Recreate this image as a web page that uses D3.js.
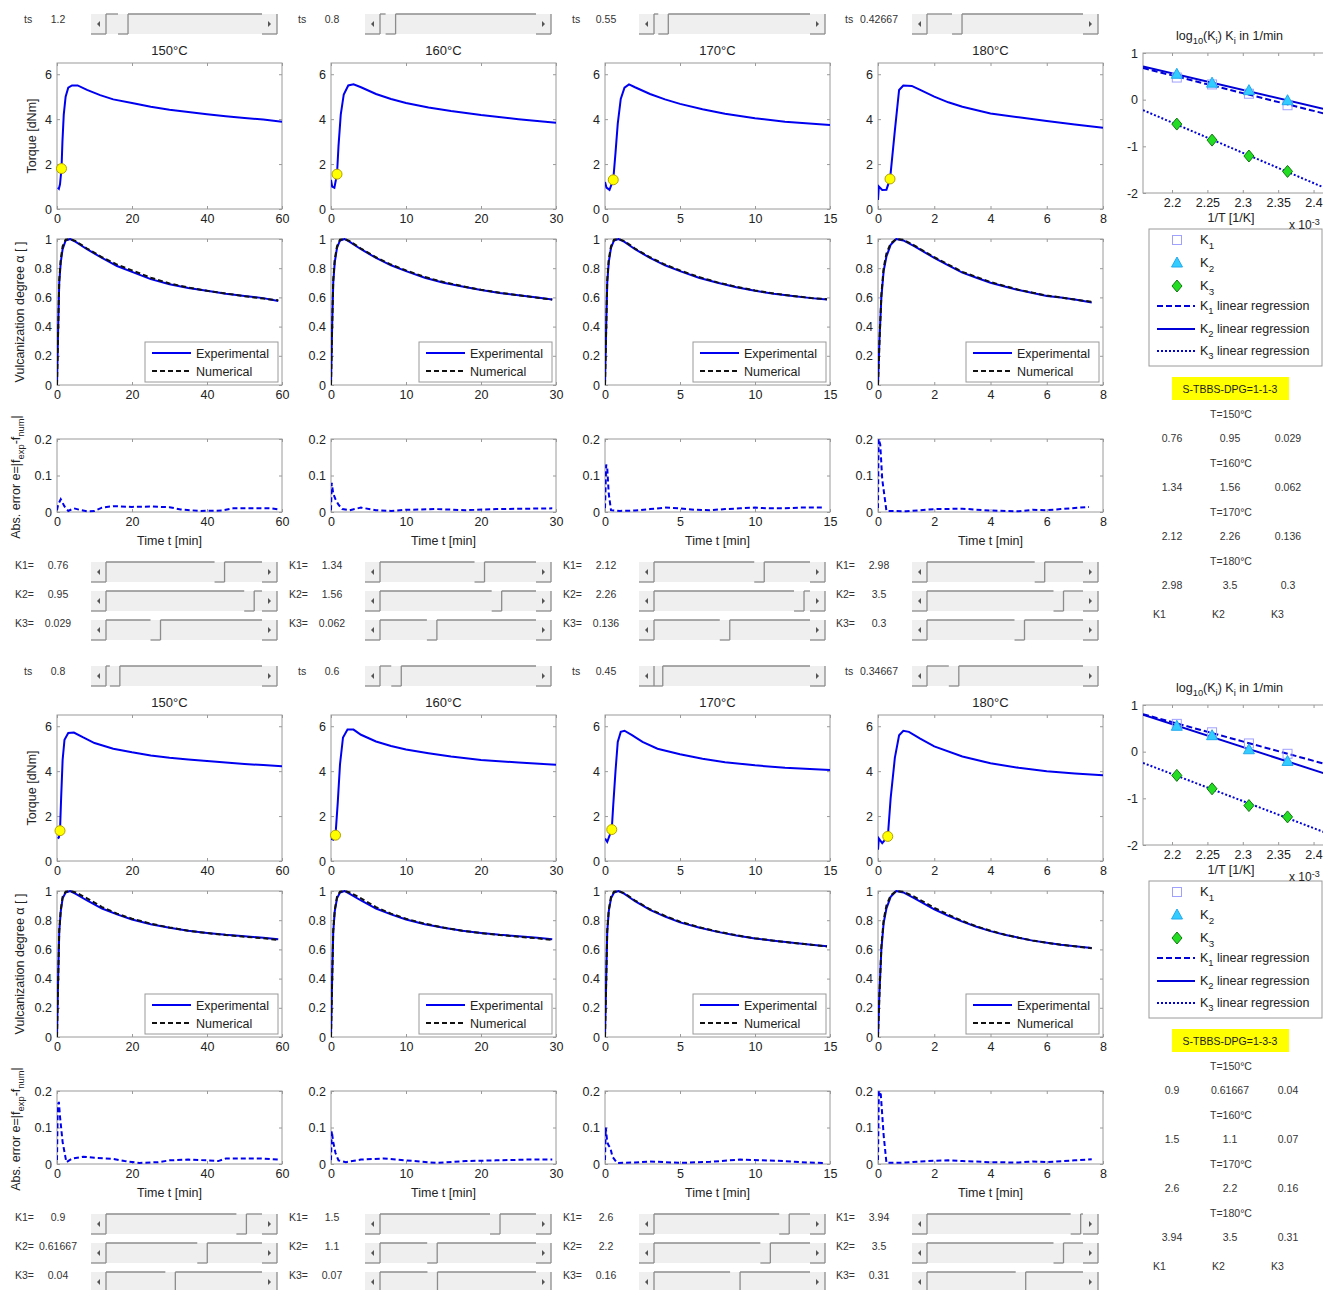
<!DOCTYPE html>
<html>
<head>
<meta charset="utf-8">
<script src="https://cdn.jsdelivr.net/npm/d3@7"></script>
<style>
  body { margin: 0; background: #fff; }
  svg { display: block; font-family: "Liberation Sans", Arial, sans-serif; }
</style>
</head>
<body>
<div id="chart"></div>
<script>
// ---------- data ----------
const tempLabels = ["150°C", "160°C", "170°C", "180°C"];
const tempC = [150, 160, 170, 180];
const timeMax = [60, 30, 15, 8];
const timeTicks = [[0, 20, 40, 60], [0, 10, 20, 30], [0, 5, 10, 15], [0, 2, 4, 6, 8]];
const mixLabels = ["S-TBBS-DPG=1-1-3", "S-TBBS-DPG=1-3-3"];

const tsValues = [[1.2, 0.8, 0.55, 0.42667], [0.8, 0.6, 0.45, 0.34667]];
const tsMax = [[8.5, 8, 6, 1.9], [9, 4.4, 8, 1.7]];

const K1 = [[0.76, 1.34, 2.12, 2.98], [0.9, 1.5, 2.6, 3.94]];
const K2 = [[0.95, 1.56, 2.26, 3.5], [0.61667, 1.1, 2.2, 3.5]];
const K3 = [[0.029, 0.062, 0.136, 0.3], [0.04, 0.07, 0.16, 0.31]];
// slider ranges (max) for the K sliders, per panel / column / K
const kMax = [
  [[1.0, 1.0, 0.083], [2.0, 2.0, 0.17], [3.0, 2.35, 0.28], [3.95, 4.0, 0.48]],
  [[1.0, 0.95, 0.09], [1.95, 3.0, 0.19], [3.0, 2.95, 0.29], [4.0, 4.0, 0.49]]
];

// torque [dNm] vs time [min]
const torqueTop = [
  [[0.2,0.95],[0.5,0.9],[0.8,1.1],[1.2,1.8],[1.45,3.0],[1.8,4.2],[2.3,5.0],[3,5.4],[4,5.5],[5.5,5.5],[8,5.3],[11.5,5.07],[15,4.88],[20,4.72],[25,4.55],[30,4.42],[35,4.32],[40,4.22],[45,4.13],[50,4.05],[55,3.98],[60,3.88]],
  [[0,1.3],[0.15,1.0],[0.45,0.95],[0.8,1.55],[1.0,2.8],[1.3,4.2],[1.7,5.1],[2.3,5.5],[3,5.55],[4,5.42],[6,5.12],[8,4.9],[10,4.72],[13,4.52],[16,4.36],[20,4.18],[25,4.0],[30,3.84]],
  [[0,1.2],[0.1,0.95],[0.3,0.85],[0.55,1.3],[0.7,2.5],[0.85,3.8],[1.05,4.9],[1.3,5.4],[1.6,5.55],[2,5.42],[3,5.12],[4,4.88],[5,4.68],[6.5,4.44],[8,4.24],[10,4.04],[12,3.88],[15,3.74]],
  [[0,0.4],[0.03,1.0],[0.15,0.85],[0.3,0.86],[0.43,1.35],[0.6,3.5],[0.75,5.3],[0.9,5.5],[1.2,5.48],[1.5,5.3],[2,5.0],[2.5,4.75],[3,4.55],[4,4.25],[5,4.08],[6,3.92],[7,3.76],[8,3.62]]
];
const torqueBot = [
  [[0.2,1.0],[0.5,1.05],[0.8,1.35],[1.1,2.8],[1.5,4.5],[2,5.4],[3,5.7],[4.5,5.72],[7,5.5],[10,5.25],[15,5.0],[20,4.84],[25,4.7],[30,4.6],[35,4.52],[40,4.45],[45,4.38],[50,4.32],[55,4.27],[60,4.22]],
  [[0,1.0],[0.3,0.95],[0.6,1.15],[0.9,2.6],[1.2,4.3],[1.6,5.5],[2.2,5.85],[3,5.85],[4,5.62],[6,5.32],[8,5.12],[10,4.96],[13,4.8],[16,4.65],[20,4.5],[25,4.38],[30,4.28]],
  [[0,1.0],[0.15,0.85],[0.45,1.4],[0.55,2.5],[0.7,4.0],[0.85,5.3],[1.05,5.75],[1.3,5.8],[1.8,5.6],[2.5,5.3],[3.5,5.0],[5,4.75],[6.5,4.55],[8,4.4],[10,4.26],[12,4.15],[15,4.05]],
  [[0,0.5],[0.03,1.0],[0.15,0.8],[0.35,1.1],[0.45,2.8],[0.6,4.6],[0.75,5.6],[0.9,5.8],[1.1,5.75],[1.5,5.45],[2,5.1],[3,4.65],[4,4.35],[5,4.15],[6,4.0],[7,3.9],[8,3.82]]
];

// vulcanization degree alpha, experimental and numerical
const alphaExpTop = [
  [[0,0],[0.3,0.38],[0.6,0.7],[1,0.84],[1.5,0.93],[2.3,0.99],[3.5,1],[5,0.98],[8,0.93],[12,0.87],[16,0.815],[20,0.775],[25,0.725],[30,0.69],[35,0.665],[40,0.645],[45,0.625],[50,0.61],[55,0.595],[59,0.575]],
  [[0,0],[0.15,0.4],[0.3,0.7],[0.5,0.84],[0.8,0.94],[1.2,0.99],[1.8,1],[2.5,0.98],[4,0.93],[6,0.87],[8,0.82],[10,0.78],[12.5,0.735],[15,0.7],[17.5,0.675],[20,0.65],[22.5,0.63],[25,0.615],[27.5,0.6],[29.5,0.585]],
  [[0,0],[0.08,0.4],[0.15,0.7],[0.25,0.84],[0.4,0.94],[0.6,0.99],[0.9,1],[1.3,0.98],[2,0.93],[3,0.87],[4,0.82],[5,0.78],[6.25,0.735],[7.5,0.7],[8.75,0.67],[10,0.645],[11.25,0.625],[12.5,0.61],[13.75,0.595],[14.8,0.585]],
  [[0,0],[0.05,0.3],[0.12,0.6],[0.2,0.78],[0.3,0.88],[0.45,0.96],[0.65,1],[0.9,0.99],[1.3,0.95],[2,0.87],[2.5,0.82],[3,0.77],[3.5,0.735],[4,0.7],[4.5,0.675],[5,0.65],[5.5,0.63],[6,0.61],[6.5,0.6],[7,0.585],[7.6,0.565]]
];
const alphaNumTop = [
  [[0,0],[0.3,0.36],[0.6,0.72],[1,0.86],[1.5,0.95],[2.3,0.995],[3.5,1],[5,0.985],[8,0.935],[12,0.875],[16,0.825],[20,0.785],[25,0.735],[30,0.695],[35,0.668],[40,0.645],[45,0.627],[50,0.608],[55,0.592],[59,0.58]],
  [[0,0],[0.15,0.38],[0.3,0.72],[0.5,0.86],[0.8,0.95],[1.2,0.995],[1.8,1],[2.5,0.985],[4,0.935],[6,0.875],[8,0.825],[10,0.785],[12.5,0.74],[15,0.705],[17.5,0.677],[20,0.652],[22.5,0.632],[25,0.615],[27.5,0.598],[29.5,0.585]],
  [[0,0],[0.08,0.38],[0.15,0.72],[0.25,0.86],[0.4,0.95],[0.6,0.995],[0.9,1],[1.3,0.985],[2,0.935],[3,0.875],[4,0.825],[5,0.785],[6.25,0.74],[7.5,0.703],[8.75,0.673],[10,0.648],[11.25,0.627],[12.5,0.61],[13.75,0.596],[14.8,0.587]],
  [[0,0],[0.05,0.28],[0.12,0.62],[0.2,0.8],[0.3,0.9],[0.45,0.97],[0.65,1],[0.9,0.995],[1.3,0.955],[2,0.875],[2.5,0.825],[3,0.775],[3.5,0.74],[4,0.705],[4.5,0.678],[5,0.653],[5.5,0.632],[6,0.613],[6.5,0.6],[7,0.585],[7.6,0.57]]
];
const alphaExpBot = [
  [[0,0],[0.3,0.4],[0.6,0.72],[1,0.86],[1.5,0.95],[2.3,0.99],[3.5,1],[5,0.98],[8,0.935],[12,0.88],[16,0.84],[20,0.805],[25,0.772],[30,0.748],[35,0.728],[40,0.713],[45,0.7],[50,0.69],[55,0.68],[59,0.67]],
  [[0,0],[0.15,0.4],[0.3,0.72],[0.5,0.86],[0.8,0.95],[1.2,0.99],[1.8,1],[2.5,0.98],[4,0.935],[6,0.88],[8,0.84],[10,0.805],[12.5,0.772],[15,0.748],[17.5,0.728],[20,0.713],[22.5,0.7],[25,0.69],[27.5,0.68],[29.5,0.67]],
  [[0,0],[0.08,0.4],[0.15,0.72],[0.25,0.86],[0.4,0.95],[0.6,0.99],[0.9,1],[1.3,0.98],[2,0.93],[3,0.87],[4,0.825],[5,0.785],[6.25,0.75],[7.5,0.72],[8.75,0.695],[10,0.675],[11.25,0.66],[12.5,0.645],[13.75,0.632],[14.8,0.622]],
  [[0,0],[0.05,0.3],[0.12,0.6],[0.2,0.78],[0.3,0.88],[0.45,0.96],[0.65,1],[0.9,0.99],[1.3,0.95],[2,0.875],[2.5,0.83],[3,0.79],[3.5,0.755],[4,0.725],[4.5,0.7],[5,0.68],[5.5,0.66],[6,0.645],[6.5,0.632],[7,0.622],[7.6,0.61]]
];
const alphaNumBot = [
  [[0,0],[0.3,0.37],[0.6,0.73],[1,0.87],[1.5,0.96],[2.3,0.995],[3.5,1],[5,0.99],[8,0.95],[12,0.89],[16,0.845],[20,0.81],[25,0.776],[30,0.75],[35,0.728],[40,0.712],[45,0.698],[50,0.687],[55,0.676],[59,0.665]],
  [[0,0],[0.15,0.37],[0.3,0.73],[0.5,0.87],[0.8,0.96],[1.2,0.995],[1.8,1],[2.5,0.99],[4,0.95],[6,0.89],[8,0.845],[10,0.81],[12.5,0.776],[15,0.75],[17.5,0.728],[20,0.712],[22.5,0.698],[25,0.687],[27.5,0.676],[29.5,0.665]],
  [[0,0],[0.08,0.37],[0.15,0.73],[0.25,0.87],[0.4,0.96],[0.6,0.995],[0.9,1],[1.3,0.985],[2,0.935],[3,0.875],[4,0.83],[5,0.79],[6.25,0.753],[7.5,0.722],[8.75,0.697],[10,0.676],[11.25,0.66],[12.5,0.645],[13.75,0.632],[14.8,0.62]],
  [[0,0],[0.05,0.28],[0.12,0.62],[0.2,0.8],[0.3,0.9],[0.45,0.97],[0.65,1],[0.9,0.995],[1.3,0.96],[2,0.885],[2.5,0.838],[3,0.795],[3.5,0.758],[4,0.728],[4.5,0.702],[5,0.68],[5.5,0.661],[6,0.645],[6.5,0.632],[7,0.621],[7.6,0.608]]
];

// absolute error |f_exp - f_num|
const errTop = [
  [[0,0.005],[0.3,0.02],[1,0.035],[2,0.015],[3,0.003],[4.5,0.01],[6,0.006],[8,0.002],[10,0.003],[12,0.012],[15,0.016],[20,0.014],[25,0.015],[30,0.013],[33,0.007],[38,0.003],[44,0.004],[47,0.01],[52,0.01],[57,0.01],[59,0.007]],
  [[0,0.005],[0.1,0.08],[0.3,0.05],[0.6,0.035],[1,0.02],[1.5,0.008],[2.5,0.005],[4,0.012],[6,0.005],[8,0.003],[10,0.006],[14,0.008],[18,0.005],[22,0.008],[26,0.009],[29.5,0.01]],
  [[0,0.01],[0.08,0.13],[0.15,0.12],[0.25,0.05],[0.4,0.005],[1,0.003],[2,0.004],[3,0.008],[4,0.012],[5,0.01],[6,0.006],[7,0.005],[8,0.008],[9,0.01],[10,0.012],[11,0.01],[12,0.01],[13,0.012],[14.5,0.012]],
  [[0,0.01],[0.02,0.2],[0.08,0.185],[0.15,0.09],[0.3,0.003],[1,0.002],[1.5,0.005],[2,0.008],[3,0.009],[4,0.004],[5,0.002],[5.5,0.006],[6,0.005],[6.5,0.008],[7,0.011],[7.5,0.014]]
];
const errBot = [
  [[0,0.01],[0.2,0.16],[0.5,0.17],[0.8,0.13],[1.5,0.06],[2.5,0.005],[4,0.015],[7,0.02],[10,0.017],[15,0.014],[18,0.008],[22,0.003],[27,0.005],[30,0.01],[35,0.012],[40,0.01],[43,0.008],[45,0.015],[50,0.015],[55,0.015],[59,0.012]],
  [[0,0.01],[0.1,0.09],[0.3,0.06],[0.6,0.03],[1,0.01],[2,0.005],[4,0.012],[7,0.015],[10,0.01],[14,0.003],[18,0.008],[22,0.01],[26,0.012],[29.5,0.012]],
  [[0,0.01],[0.05,0.1],[0.15,0.06],[0.25,0.05],[0.35,0.045],[0.5,0.02],[0.8,0.003],[2,0.004],[3,0.007],[5,0.003],[7,0.006],[9,0.012],[10.5,0.01],[12,0.008],[13.5,0.004],[14.6,0.003]],
  [[0,0.01],[0.03,0.2],[0.1,0.19],[0.2,0.08],[0.3,0.003],[1,0.004],[1.5,0.007],[2,0.009],[2.5,0.01],[3,0.008],[4,0.005],[5,0.004],[5.5,0.007],[6,0.005],[7,0.01],[7.6,0.013]]
];

const torque = [torqueTop, torqueBot];
const alphaExp = [alphaExpTop, alphaExpBot];
const alphaNum = [alphaNumTop, alphaNumBot];
const absErr = [errTop, errBot];

// ---------- layout ----------
const W = 1323, H = 1290;
const panelY = [0, 652];
const colX = [57, 331, 605, 878];
const plotW = 225;
const rowTorque = {y: 63, h: 146}, rowAlpha = {y: 239, h: 146}, rowErr = {y: 439, h: 73};
const BLUE = "#0000f0", FRAME = "#9a9a9a", TXT = "#222";

const svg = d3.select("#chart").append("svg")
  .attr("width", W).attr("height", H);
svg.append("rect").attr("width", W).attr("height", H).attr("fill", "#fff");
const defs = svg.append("defs");
let clipId = 0;

// text with sub/superscripts: parts = [[text, shift]] shift: 0 normal, 1 sub, -1 sup
function richText(g, parts, size) {
  const t = g.append("text").attr("font-size", size).attr("fill", TXT);
  let cur = 0;
  parts.forEach(([s, sh]) => {
    const dy = (sh - cur) * size * 0.35;
    t.append("tspan").attr("dy", dy).attr("font-size", sh ? size * 0.75 : size).text(s);
    cur = sh;
  });
  return t;
}

const plainFmt = d => String(d);

// a MATLAB-style axes box with inward ticks on all four sides
function axesBox(g, x0, y0, w, h, xDom, yDom, xTicks, yTicks) {
  const x = d3.scaleLinear().domain(xDom).range([x0, x0 + w]);
  const y = d3.scaleLinear().domain(yDom).range([y0 + h, y0]);
  g.append("rect").attr("x", x0).attr("y", y0).attr("width", w).attr("height", h)
    .attr("fill", "#fff").attr("stroke", FRAME).attr("stroke-width", 1);
  const style = sel => {
    sel.select(".domain").remove();
    sel.selectAll("line").attr("stroke", FRAME);
    sel.selectAll("text").attr("fill", TXT).attr("font-size", 12.5)
      .attr("font-family", "Liberation Sans, Arial, sans-serif");
  };
  g.append("g").attr("transform", `translate(0,${y0 + h})`)
    .call(d3.axisBottom(x).tickValues(xTicks).tickSize(-3).tickPadding(5).tickFormat(plainFmt))
    .call(style);
  g.append("g").attr("transform", `translate(0,${y0})`)
    .call(d3.axisTop(x).tickValues(xTicks).tickSize(-3).tickFormat(""))
    .call(style);
  g.append("g").attr("transform", `translate(${x0},0)`)
    .call(d3.axisLeft(y).tickValues(yTicks).tickSize(-3).tickPadding(5).tickFormat(plainFmt))
    .call(style);
  g.append("g").attr("transform", `translate(${x0 + w},0)`)
    .call(d3.axisRight(y).tickValues(yTicks).tickSize(-3).tickFormat(""))
    .call(style);
  const id = "clip" + (clipId++);
  defs.append("clipPath").attr("id", id).append("rect")
    .attr("x", x0).attr("y", y0 - 1).attr("width", w).attr("height", h + 2);
  const plot = g.append("g").attr("clip-path", `url(#${id})`);
  return {x, y, plot};
}

// MATLAB-style horizontal slider
function slider(g, x0, y0, w, frac) {
  const h = 20, a = 15, c = "#8c8c8c";
  const tx = x0 + a + Math.max(0, Math.min(1, frac)) * (w - 2 * a);
  g.append("rect").attr("x", x0).attr("y", y0).attr("width", w).attr("height", h).attr("fill", "#efefef");
  const seg = (x1, y1, x2, y2) => g.append("line").attr("x1", x1).attr("y1", y1).attr("x2", x2).attr("y2", y2)
    .attr("stroke", c).attr("stroke-width", 1.3);
  seg(x0 + a, y0, Math.max(x0 + a, tx - 10), y0);
  seg(tx, y0, x0 + w - a, y0);
  seg(x0 + a, y0, x0 + a, y0 + h);
  seg(tx, y0, tx, y0 + h);
  seg(x0, y0 + h, x0 + a, y0 + h);
  seg(Math.max(x0 + a, tx - 10), y0 + h, tx, y0 + h);
  seg(x0 + w - a, y0 + h, x0 + w, y0 + h);
  seg(x0 + w, y0, x0 + w, y0 + h);
  const m = y0 + h / 2;
  g.append("path").attr("d", `M${x0 + 9},${m - 3}L${x0 + 6},${m}L${x0 + 9},${m + 3}Z`).attr("fill", "#555");
  g.append("path").attr("d", `M${x0 + w - 9},${m - 3}L${x0 + w - 6},${m}L${x0 + w - 9},${m + 3}Z`).attr("fill", "#555");
}

function interp(pts, t) {
  for (let i = 1; i < pts.length; i++) {
    if (pts[i][0] >= t) {
      const [t0, v0] = pts[i - 1], [t1, v1] = pts[i];
      return v0 + (v1 - v0) * (t - t0) / (t1 - t0);
    }
  }
  return pts[pts.length - 1][1];
}

const line = (sc) => d3.line().x(d => sc.x(d[0])).y(d => sc.y(d[1]));
const fmtNum = v => String(v);

// ---------- draw both panels ----------
panelY.forEach((py, p) => {
  const G = svg.append("g").attr("transform", `translate(0,${py})`);

  tempLabels.forEach((lab, c) => {
    const cx = colX[c];
    const tMax = timeMax[c];

    // ts slider row
    G.append("text").attr("x", cx - 33).attr("y", 23).attr("font-size", 10.5).attr("fill", "#333").text("ts");
    G.append("text").attr("x", cx + 1).attr("y", 23).attr("text-anchor", "middle").attr("font-size", 10.5)
      .attr("fill", "#333").text(fmtNum(tsValues[p][c]));
    slider(G, cx + 34, 14, 186, tsValues[p][c] / tsMax[p][c]);

    // title
    G.append("text").attr("x", cx + plotW / 2).attr("y", 55).attr("text-anchor", "middle")
      .attr("font-size", 13).attr("fill", TXT).text(lab);

    // torque
    const tq = axesBox(G, cx, rowTorque.y, plotW, rowTorque.h, [0, tMax], [0, 6.5], timeTicks[c], [0, 2, 4, 6]);
    tq.plot.append("path").datum(torque[p][c]).attr("d", line(tq))
      .attr("fill", "none").attr("stroke", BLUE).attr("stroke-width", 2);
    const ts = tsValues[p][c];
    G.append("circle").attr("cx", tq.x(ts)).attr("cy", tq.y(interp(torque[p][c], ts))).attr("r", 5)
      .attr("fill", "#ffff00").attr("stroke", "#b3a100").attr("stroke-width", 1);

    // alpha
    const al = axesBox(G, cx, rowAlpha.y, plotW, rowAlpha.h, [0, tMax], [0, 1], timeTicks[c],
      [0, 0.2, 0.4, 0.6, 0.8, 1]);
    al.plot.append("path").datum(alphaExp[p][c]).attr("d", line(al))
      .attr("fill", "none").attr("stroke", BLUE).attr("stroke-width", 2);
    al.plot.append("path").datum(alphaNum[p][c]).attr("d", line(al))
      .attr("fill", "none").attr("stroke", "#111").attr("stroke-width", 2).attr("stroke-dasharray", "5,3");
    // legend
    const lx = cx + plotW - 137, ly = rowAlpha.y + 103;
    G.append("rect").attr("x", lx).attr("y", ly).attr("width", 133).attr("height", 40)
      .attr("fill", "#fff").attr("stroke", FRAME);
    [["Experimental", BLUE, null], ["Numerical", "#111", "5,3"]].forEach(([name, col, dash], i) => {
      const yy = ly + 11 + i * 18;
      G.append("line").attr("x1", lx + 7).attr("x2", lx + 46).attr("y1", yy).attr("y2", yy)
        .attr("stroke", col).attr("stroke-width", 2).attr("stroke-dasharray", dash);
      G.append("text").attr("x", lx + 51).attr("y", yy + 4.5).attr("font-size", 12.5).attr("fill", TXT).text(name);
    });

    // error
    const er = axesBox(G, cx, rowErr.y, plotW, rowErr.h, [0, tMax], [0, 0.2], timeTicks[c], [0, 0.1, 0.2]);
    er.plot.append("path").datum(absErr[p][c]).attr("d", line(er))
      .attr("fill", "none").attr("stroke", BLUE).attr("stroke-width", 2).attr("stroke-dasharray", "5,3");
    G.append("text").attr("x", cx + plotW / 2).attr("y", 545).attr("text-anchor", "middle")
      .attr("font-size", 12.5).attr("fill", TXT).text("Time t [min]");

    // K sliders
    [K1, K2, K3].forEach((K, k) => {
      const yy = 562 + k * 29;
      G.append("text").attr("x", cx - 42).attr("y", yy + 7).attr("font-size", 10.5).attr("fill", "#333").text(`K${k + 1}=`);
      G.append("text").attr("x", cx + 1).attr("y", yy + 7).attr("text-anchor", "middle").attr("font-size", 10.5)
        .attr("fill", "#333").text(fmtNum(K[p][c]));
      slider(G, cx + 34, yy, 186, K[p][c] / kMax[p][c][k]);
    });
  });

  // y labels (first column)
  G.append("text").attr("transform", `translate(32,${rowTorque.y + rowTorque.h / 2}) rotate(-90)`)
    .attr("dy", "0.35em").attr("text-anchor", "middle").attr("font-size", 12.5).attr("fill", TXT).text("Torque [dNm]");
  G.append("text").attr("transform", `translate(20,${rowAlpha.y + rowAlpha.h / 2}) rotate(-90)`)
    .attr("dy", "0.35em").attr("text-anchor", "middle").attr("font-size", 12.5).attr("fill", TXT).text("Vulcanization degree α [ ]");
  const el = G.append("g").attr("transform", `translate(20,477) rotate(-90)`);
  richText(el, [["Abs. error e=|f", 0], ["exp", 1], ["-f", 0], ["num", 1], ["|", 0]], 12.5)
    .attr("text-anchor", "middle");

  // ---------- Arrhenius plot ----------
  const lx0 = 1143, lw = 185;
  const arr = axesBox(G, lx0, 53, lw, 140, [2.159, 2.4204], [-2, 1], [2.2, 2.25, 2.3, 2.35, 2.4], [-2, -1, 0, 1]);
  const invT = tempC.map(t => 1000 / (t + 273.15));
  const kSets = [K1[p], K2[p], K3[p]];
  const dashes = ["6,3", null, "2,2"];
  kSets.forEach((K, k) => {
    const pts = K.map((v, i) => [invT[i], Math.log10(v)]);
    const mx = d3.mean(pts, d => d[0]), my = d3.mean(pts, d => d[1]);
    const b = d3.sum(pts, d => (d[0] - mx) * (d[1] - my)) / d3.sum(pts, d => (d[0] - mx) ** 2);
    const fit = arr.x.domain().map(xv => [xv, my + b * (xv - mx)]);
    arr.plot.append("path").datum(fit).attr("d", line(arr)).attr("fill", "none")
      .attr("stroke", "#0000d8").attr("stroke-width", 2).attr("stroke-dasharray", dashes[k]);
  });
  const marker = (g, k, x, y) => {
    if (k === 0) g.append("rect").attr("x", x - 4.5).attr("y", y - 4.5).attr("width", 9).attr("height", 9)
      .attr("fill", "none").attr("stroke", "#a0a0ff").attr("stroke-width", 1);
    else if (k === 1) g.append("path").attr("d", `M${x},${y - 6}L${x + 5.5},${y + 4}L${x - 5.5},${y + 4}Z`)
      .attr("fill", "#33ccff").attr("stroke", "#22aaee");
    else g.append("path").attr("d", `M${x},${y - 6}L${x + 5},${y}L${x},${y + 6}L${x - 5},${y}Z`)
      .attr("fill", "#22dd22").attr("stroke", "#117711");
  };
  kSets.forEach((K, k) => K.forEach((v, i) => marker(arr.plot, k, arr.x(invT[i]), arr.y(Math.log10(v)))));

  richText(G.append("g").attr("transform", "translate(1176,40)"),
    [["log", 0], ["10", 1], ["(K", 0], ["i", 1], [") K", 0], ["i", 1], [" in 1/min", 0]], 12.5);
  G.append("text").attr("x", 1231).attr("y", 222).attr("text-anchor", "middle").attr("font-size", 12.5)
    .attr("fill", TXT).text("1/T [1/K]");

  // legend (drawn before the exponent label so the label sits on top)
  G.append("rect").attr("x", 1149).attr("y", 229).attr("width", 173).attr("height", 137)
    .attr("fill", "#fff").attr("stroke", FRAME);
  richText(G.append("g").attr("transform", "translate(1289,229)"), [["x 10", 0], ["-3", -1]], 12);
  const legY = [240, 263, 286, 306, 329, 351];
  [0, 1, 2].forEach(k => {
    marker(G, k, 1177, legY[k]);
    richText(G.append("g").attr("transform", `translate(1200,${legY[k] + 4})`), [["K", 0], [String(k + 1), 1]], 13);
  });
  [0, 1, 2].forEach(k => {
    const yy = legY[k + 3];
    G.append("line").attr("x1", 1157).attr("x2", 1195).attr("y1", yy).attr("y2", yy)
      .attr("stroke", "#0000d8").attr("stroke-width", 2).attr("stroke-dasharray", dashes[k]);
    richText(G.append("g").attr("transform", `translate(1200,${yy + 4})`),
      [["K", 0], [String(k + 1), 1], [" linear regression", 0]], 12.5);
  });

  // mixture label
  G.append("rect").attr("x", 1172).attr("y", 377).attr("width", 117).attr("height", 23).attr("fill", "#ffff00");
  G.append("text").attr("x", 1230).attr("y", 389).attr("dy", "0.35em").attr("text-anchor", "middle")
    .attr("font-size", 10.5).attr("fill", "#222").text(mixLabels[p]);

  // K table
  const colTx = [1172, 1230, 1288];
  tempC.forEach((t, i) => {
    G.append("text").attr("x", 1231).attr("y", 414 + i * 49).attr("dy", "0.35em").attr("text-anchor", "middle")
      .attr("font-size", 10.5).attr("fill", "#333").text(`T=${t}°C`);
    kSets.forEach((K, k) => {
      G.append("text").attr("x", colTx[k]).attr("y", 438 + i * 49).attr("dy", "0.35em").attr("text-anchor", "middle")
        .attr("font-size", 10.5).attr("fill", "#333").text(fmtNum(K[i]));
    });
  });
  ["K1", "K2", "K3"].forEach((s, k) => {
    G.append("text").attr("x", 1153 + k * 59).attr("y", 614).attr("dy", "0.35em")
      .attr("font-size", 10.5).attr("fill", "#333").text(s);
  });
});
</script>
</body>
</html>
